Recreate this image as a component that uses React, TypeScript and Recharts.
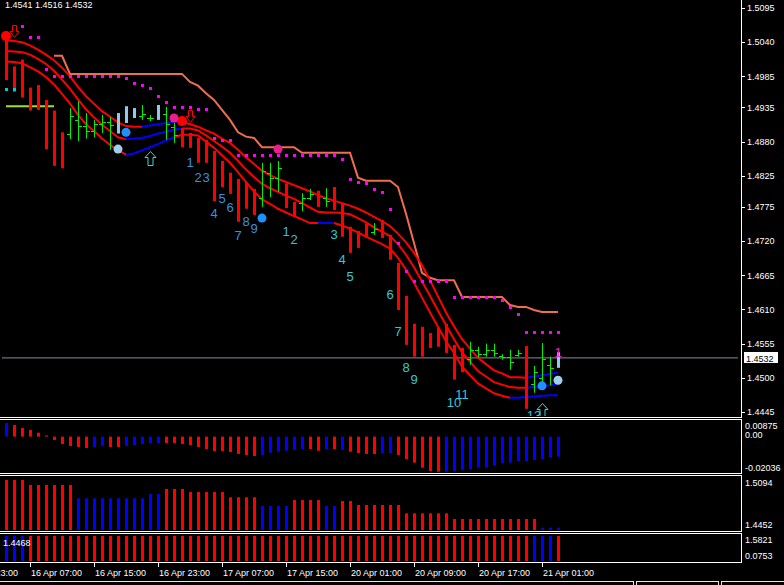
import React from "react";
import { ComposedChart, Bar, Line, Scatter, XAxis, YAxis, ReferenceLine } from "recharts";

const n = null;
const FONT = "'Liberation Sans', Arial, sans-serif";
const SLOTS = 92;

// ---------- categories (hourly bars) ----------
const CATS = [
  "16 Apr 04:00","16 Apr 05:00","16 Apr 06:00","16 Apr 07:00","16 Apr 08:00","16 Apr 09:00","16 Apr 10:00","16 Apr 11:00","16 Apr 12:00","16 Apr 13:00",
  "16 Apr 14:00","16 Apr 15:00","16 Apr 16:00","16 Apr 17:00","16 Apr 18:00","16 Apr 19:00","16 Apr 20:00","16 Apr 21:00","16 Apr 22:00","16 Apr 23:00",
  "17 Apr 00:00","17 Apr 01:00","17 Apr 02:00","17 Apr 03:00","17 Apr 04:00","17 Apr 05:00","17 Apr 06:00","17 Apr 07:00","17 Apr 08:00","17 Apr 09:00",
  "17 Apr 10:00","17 Apr 11:00","17 Apr 12:00","17 Apr 13:00","17 Apr 14:00","17 Apr 15:00","17 Apr 16:00","17 Apr 17:00","17 Apr 18:00","17 Apr 19:00",
  "17 Apr 20:00","17 Apr 21:00","17 Apr 22:00","20 Apr 01:00","20 Apr 02:00","20 Apr 03:00","20 Apr 04:00","20 Apr 05:00","20 Apr 06:00","20 Apr 07:00",
  "20 Apr 08:00","20 Apr 09:00","20 Apr 10:00","20 Apr 11:00","20 Apr 12:00","20 Apr 13:00","20 Apr 14:00","20 Apr 15:00","20 Apr 16:00","20 Apr 17:00",
  "20 Apr 18:00","20 Apr 19:00","20 Apr 20:00","20 Apr 21:00","20 Apr 22:00","20 Apr 23:00","21 Apr 00:00","21 Apr 01:00","21 Apr 02:00","21 Apr 03:00",
];
const TIME_TICKS = ["16 Apr 07:00","16 Apr 15:00","16 Apr 23:00","17 Apr 07:00","17 Apr 15:00","20 Apr 01:00","20 Apr 09:00","20 Apr 17:00","21 Apr 01:00"];
const PREV_TIME_LABEL = "15 Apr 23:00";
const PRICE_TICKS = [1.5095,1.504,1.4985,1.4935,1.488,1.4825,1.4775,1.472,1.4665,1.461,1.4555,1.45,1.4445];
const MAIN_DOMAIN = [1.44385, 1.51079];
const CUR_PRICE = 1.4532;
const HEADER = "1.4541 1.4516 1.4532";

// ---------- price bars ----------
const HIGH = [
  1.5047,1.5001,1.5012,1.4967,1.4971,1.4947,1.4930,1.4895,1.4934,1.4945,
  1.4926,1.4915,1.4923,1.4920,1.4926,1.4937,1.4934,1.4939,1.4923,1.4939,
  1.4936,1.4910,1.4902,1.4894,1.4886,1.4883,1.4865,1.4849,1.4830,1.4820,
  1.4815,1.4804,1.4846,1.4846,1.4849,1.4813,1.4783,1.4797,1.4804,1.4801,
  1.4805,1.4807,1.4781,1.4743,1.4736,1.4748,1.4749,1.4754,1.4730,1.4685,
  1.4632,1.4587,1.4582,1.4572,1.4580,1.4587,1.4553,1.4548,1.4558,1.4550,
  1.4555,1.4555,1.4538,1.4545,1.4545,1.4551,1.4519,1.4556,1.4534,1.4541,
];
const LOW = [
  1.4979,1.4960,1.4951,1.4930,1.4931,1.4868,1.4841,1.4837,1.4884,1.4881,
  1.4885,1.4887,1.4894,1.4867,1.4893,1.4910,1.4918,1.4915,1.4913,1.4915,
  1.4883,1.4878,1.4871,1.4870,1.4846,1.4846,1.4784,1.4807,1.4796,1.4751,
  1.4772,1.4762,1.4775,1.4791,1.4799,1.4773,1.4759,1.4768,1.4786,1.4775,
  1.4775,1.4770,1.4727,1.4701,1.4709,1.4727,1.4730,1.4725,1.4690,1.4609,
  1.4553,1.4534,1.4534,1.4548,1.4550,1.4540,1.4497,1.4509,1.4521,1.4532,
  1.4534,1.4534,1.4529,1.4513,1.4534,1.4450,1.4476,1.4485,1.4488,1.4516,
];
const OPEN = [
  n,n,n,n,n,n,n,n,1.4893,1.4915,
  1.4905,1.4897,1.4908,1.4912,n,n,n,1.4922,1.4918,n,
  1.4924,1.4904,n,n,n,n,n,n,n,n,
  n,n,1.4790,1.4830,1.4822,n,n,1.4782,1.4790,n,
  1.4790,n,n,n,n,n,1.4735,n,n,n,
  n,n,n,n,n,n,n,n,1.4530,1.4545,
  1.4538,1.4545,1.4535,1.4533,1.4537,n,1.4490,1.4500,1.4520,n,
];
const CLOSE = [
  n,n,n,n,n,n,n,n,1.4921,1.4905,
  1.4897,1.4908,1.4912,1.4906,n,n,n,1.4925,1.4918,n,
  1.4908,1.4890,n,n,n,n,n,n,n,n,
  n,n,1.4832,1.4822,1.4838,n,n,1.4790,1.4795,n,
  1.4785,n,n,n,n,n,1.4740,n,n,n,
  n,n,n,n,n,n,n,n,1.4545,1.4538,
  1.4545,1.4540,1.4533,1.4525,1.4540,n,1.4510,1.4530,1.4515,n,
];
// r = red thick bar, g = green OHLC bar, b = light blue thick bar
const BAR_KIND = "rrrrrrrrggggggbbbggbggrrrrrrrrrrgggrrggrgrrrrrgrrrrrrrrrrrgggggggrgggb";

// ---------- envelope bands ----------
const UPPER = [
  1.5043,1.5042,1.5040,1.5035,1.5028,1.5020,1.5011,1.4999,1.4985,1.4968,
  1.4953,1.4941,1.4929,1.4920,1.4911,1.4905,1.4904,1.4904,1.4906,1.4908,
  1.4910,1.4912,1.4912,1.4908,1.4904,1.4898,1.4893,1.4885,1.4878,1.4867,
  1.4855,1.4844,1.4833,1.4826,1.4820,1.4815,1.4810,1.4805,1.4800,1.4794,
  1.4789,1.4785,1.4781,1.4777,1.4772,1.4766,1.4759,1.4752,1.4744,1.4732,
  1.4718,1.4701,1.4681,1.4657,1.4631,1.4605,1.4583,1.4562,1.4547,1.4532,
  1.4522,1.4512,1.4507,1.4501,1.4501,1.4500,1.4502,1.4504,1.4506,1.4508,
];
const MIDDLE = [
  1.5026,1.5025,1.5024,1.5020,1.5013,1.5005,1.4994,1.4980,1.4965,1.4948,
  1.4932,1.4919,1.4907,1.4897,1.4887,1.4884,1.4885,1.4886,1.4889,1.4893,
  1.4896,1.4899,1.4901,1.4901,1.4898,1.4890,1.4881,1.4872,1.4862,1.4849,
  1.4835,1.4823,1.4812,1.4805,1.4799,1.4793,1.4788,1.4781,1.4774,1.4767,
  1.4766,1.4766,1.4765,1.4763,1.4757,1.4750,1.4742,1.4735,1.4728,1.4715,
  1.4698,1.4678,1.4655,1.4632,1.4608,1.4585,1.4562,1.4541,1.4526,1.4511,
  1.4502,1.4493,1.4489,1.4485,1.4484,1.4484,1.4485,1.4486,1.4488,1.4490,
];
const LOWER = [
  1.5009,1.5008,1.5006,1.5000,1.4993,1.4984,1.4972,1.4957,1.4941,1.4923,
  1.4908,1.4897,1.4885,1.4875,1.4866,1.4859,1.4861,1.4866,1.4871,1.4876,
  1.4882,1.4887,1.4891,1.4891,1.4890,1.4880,1.4870,1.4858,1.4846,1.4831,
  1.4815,1.4800,1.4787,1.4780,1.4772,1.4766,1.4760,1.4755,1.4749,1.4749,
  1.4749,1.4749,1.4745,1.4740,1.4734,1.4727,1.4721,1.4715,1.4708,1.4693,
  1.4674,1.4653,1.4629,1.4605,1.4582,1.4559,1.4540,1.4518,1.4504,1.4491,
  1.4483,1.4475,1.4471,1.4468,1.4468,1.4469,1.4470,1.4471,1.4472,1.4472,
];
const UPPER_BLUE = [[17, 22], [65, 69]];
const MIDDLE_BLUE = [[15, 22], [65, 69]];
const LOWER_BLUE = [[15, 21], [39, 41], [63, 69]];

// ---------- trailing stop line & dots ----------
const STOP = [
  n,n,n,n,n,n,1.5018,1.5018,1.4989,1.4989,
  1.4989,1.4989,1.4989,1.4989,1.4989,1.4989,1.4989,1.4989,1.4989,1.4989,
  1.4989,1.4989,1.4989,1.4976,1.4970,1.4958,1.4947,1.4931,1.4915,1.4895,
  1.4888,1.4886,1.4871,1.4871,1.4871,1.4871,1.4871,1.4862,1.4862,1.4862,
  1.4862,1.4862,1.4862,1.4862,1.4822,1.4817,1.4817,1.4817,1.4817,1.4807,
  1.4764,1.4717,1.4669,1.4661,1.4657,1.4657,1.4657,1.4630,1.4630,1.4630,
  1.4630,1.4630,1.4630,1.4617,1.4614,1.4614,1.4609,1.4606,1.4606,1.4606,
];
const MAGENTA = [
  n,n,1.5066,1.5048,1.5048,1.4997,1.4985,1.4985,1.4985,1.4985,
  1.4985,1.4985,1.4985,1.4985,1.4985,1.4983,1.4974,1.4971,1.4966,1.4953,
  1.4944,1.4936,1.4936,1.4936,1.4932,1.4932,1.4886,1.4883,1.4883,1.4859,
  1.4859,1.4859,1.4859,1.4859,1.4859,1.4859,1.4859,1.4859,1.4859,1.4859,
  1.4859,1.4859,1.4852,1.4820,1.4815,1.4813,1.4804,1.4799,1.4772,1.4717,
  1.4672,1.4656,1.4656,1.4656,1.4656,1.4656,1.4630,1.4630,1.4630,1.4630,
  1.4630,1.4630,1.4625,1.4614,1.4603,1.4574,1.4574,1.4574,1.4574,1.4574,
];
const YG_LEVEL = 1.4937;
const YG_BARS = [0, 6];

// ---------- signal markers ----------
const RED_DOTS = [{ i: 0, p: 1.5050 }, { i: 22, p: 1.4913 }];
const PINK_DOTS = [{ i: 21, p: 1.4918 }, { i: 34, p: 1.4868 }];
const BLUE_DOTS = [{ i: 15, p: 1.4895 }, { i: 32, p: 1.4757 }, { i: 67, p: 1.4487 }];
const SKY_DOTS = [{ i: 14, p: 1.4868 }, { i: 69, p: 1.4496 }];
const DOWN_ARROWS = [{ i: 1, p: 1.5058 }, { i: 23, p: 1.4921 }];
const UP_ARROWS = [{ i: 18, p: 1.4854 }, { i: 67, p: 1.4448 }];
const CYAN_SQUARES = [{ i: 0, p: 1.4965 }, { i: 1, p: 1.4965 }];
const WAVE_LABELS = [
  { i: 23, p: 1.4847, t: "1", c: "#3b8fe0" }, { i: 24, p: 1.4823, t: "2", c: "#3b8fe0" },
  { i: 25, p: 1.4823, t: "3", c: "#3b8fe0" }, { i: 26, p: 1.4764, t: "4", c: "#3b8fe0" },
  { i: 27, p: 1.4788, t: "5", c: "#3b8fe0" }, { i: 28, p: 1.4775, t: "6", c: "#3b8fe0" },
  { i: 29, p: 1.4730, t: "7", c: "#3b8fe0" }, { i: 30, p: 1.4751, t: "8", c: "#3b8fe0" },
  { i: 31, p: 1.4741, t: "9", c: "#3b8fe0" },
  { i: 35, p: 1.4735, t: "1", c: "#45b4ea" }, { i: 36, p: 1.4722, t: "2", c: "#45b4ea" },
  { i: 41, p: 1.4731, t: "3", c: "#35c8d8" }, { i: 42, p: 1.4690, t: "4", c: "#35c8d8" },
  { i: 43, p: 1.4664, t: "5", c: "#35c8d8" }, { i: 48, p: 1.4635, t: "6", c: "#35c8d8" },
  { i: 49, p: 1.4574, t: "7", c: "#35c8d8" }, { i: 50, p: 1.4517, t: "8", c: "#35c8d8" },
  { i: 51, p: 1.4497, t: "9", c: "#35c8d8" }, { i: 56, p: 1.4460, t: "10", c: "#35c8d8" },
  { i: 57, p: 1.4474, t: "11", c: "#35c8d8" }, { i: 66, p: 1.4440, t: "13", c: "#35c8d8" },
  { i: 69, p: 1.4541, t: "1", c: "#ee22ee" },
];

// ---------- sub panel 1 (oscillator) ----------
const OSC = [
  0.00763,0.00651,0.00483,0.00371,0.00220,0.00063,-0.00189,-0.00413,-0.00525,-0.00581,
  -0.00636,-0.00581,-0.00525,-0.00581,-0.00581,-0.00525,-0.00469,-0.00413,-0.00357,-0.00357,
  -0.00357,-0.00357,-0.00413,-0.00469,-0.00581,-0.00692,-0.00804,-0.00804,-0.00860,-0.00972,
  -0.01028,-0.01084,-0.01028,-0.00900,-0.00844,-0.00788,-0.00748,-0.00692,-0.00692,-0.00788,
  -0.00692,-0.00692,-0.00748,-0.00844,-0.00916,-0.00972,-0.00972,-0.00916,-0.00916,-0.01028,
  -0.01252,-0.01459,-0.01739,-0.01924,-0.01963,-0.01963,-0.01924,-0.01868,-0.01812,-0.01739,
  -0.01739,-0.01627,-0.01476,-0.01459,-0.01364,-0.01364,-0.01308,-0.01252,-0.01180,-0.01124,
];
const OSC_COLOR = "brrrrrrrrrrbbrrbbbbbrrrrrrrrrrrrbbbbbbrrbrbrrrrbbrrrrrrbbbbbbbbbbbbbbb";
const OSC_DOMAIN = [-0.02036, 0.00875];

// ---------- sub panel 2 (level histogram) ----------
const LEVEL = [
  1.5058,1.5058,1.5058,1.4997,1.4997,1.4997,1.4997,1.4997,1.4997,1.4836,
  1.4836,1.4836,1.4836,1.4836,1.4836,1.4836,1.4836,1.4836,1.4888,1.4888,
  1.4949,1.4949,1.4949,1.4912,1.4912,1.4912,1.4912,1.4912,1.4848,1.4848,
  1.4848,1.4848,1.4743,1.4743,1.4743,1.4743,1.4815,1.4815,1.4815,1.4815,
  1.4743,1.4743,1.4803,1.4803,1.4755,1.4755,1.4755,1.4755,1.4755,1.4755,
  1.4654,1.4654,1.4654,1.4654,1.4654,1.4654,1.4585,1.4585,1.4585,1.4585,
  1.4585,1.4585,1.4585,1.4585,1.4585,1.4585,1.4585,1.4480,1.4480,1.4480,
];
const LEVEL_COLOR = "rrrrrrrrrbbbbbbbbbbbrrrrrrrrrrrrbbbbrrrrbbrrrrrrrrrrrrrrrrrrrrrrrrrbbb";
const LEVEL_DOMAIN = [1.4452, 1.5094];

// ---------- sub panel 3 (trend strip) ----------
const TREND = [
  1.5821,1.5821,1.5821,1.5821,1.5821,1.5821,1.5821,1.5821,1.5821,1.5821,
  1.5821,1.5821,1.5821,1.5821,1.5821,1.5821,1.5821,1.5821,1.5821,1.5821,
  1.5821,1.5821,1.5821,1.5821,1.5821,1.5821,1.5821,1.5821,1.5821,1.5821,
  1.5821,1.5821,1.5821,1.5821,1.5821,1.5821,1.5821,1.5821,1.5821,1.5821,
  1.5821,1.5821,1.5821,1.5821,1.5821,1.5821,1.5821,1.5821,1.5821,1.5821,
  1.5821,1.5821,1.5821,1.5821,1.5821,1.5821,1.5821,1.5821,1.5821,1.5821,
  1.5821,1.5821,1.5821,1.5821,1.5821,1.5821,1.5821,1.5821,1.5821,1.5821,
];
const TREND_COLOR = "bbbrrrrrrrrrrrrrrrrrrrrrrrrrrrrrrrrrrrrrrrrrrrrrrrrrrrrrrrrrrrrrrrbbb";
const TREND_DOMAIN = [0.0753, 1.5821];
const TREND_NOTE = "1.4468";

// ---------- colours ----------
const RED = "#ff0000";
const BLUE = "#0000ff";
const GREEN = "#00ee00";
const SKY = "#92c8e8";
const SALMON = "#f06e50";
const MAG = "#ff00ff";

// ---------- build rows ----------
const inRanges = (i: number, rs: number[][], strict: boolean) =>
  rs.some(([s, e]) => (strict ? i > s && i < e : i >= s && i <= e));

const rows: any[] = [];
for (let i = 0; i < SLOTS; i++) rows.push({ cat: i < CATS.length ? CATS[i] : `pad${i}` });
CATS.forEach((_, i) => {
  const r = rows[i];
  r.rng = [LOW[i], HIGH[i]];
  r.hi = HIGH[i];
  r.lo = LOW[i];
  r.op = OPEN[i];
  r.cl = CLOSE[i];
  r.kind = BAR_KIND[i];
  r.stop = STOP[i];
  r.mag = MAGENTA[i];
  r.upR = inRanges(i, UPPER_BLUE, true) ? null : UPPER[i];
  r.upB = inRanges(i, UPPER_BLUE, false) ? UPPER[i] : null;
  r.midR = inRanges(i, MIDDLE_BLUE, true) ? null : MIDDLE[i];
  r.midB = inRanges(i, MIDDLE_BLUE, false) ? MIDDLE[i] : null;
  r.lowR = inRanges(i, LOWER_BLUE, true) ? null : LOWER[i];
  r.lowB = inRanges(i, LOWER_BLUE, false) ? LOWER[i] : null;
  r.yg = i >= YG_BARS[0] && i <= YG_BARS[1] ? YG_LEVEL : null;
  r.osc = OSC[i];
  r.oscC = OSC_COLOR[i] === "b" ? BLUE : RED;
  r.lev = LEVEL[i];
  r.levC = LEVEL_COLOR[i] === "b" ? BLUE : RED;
  r.trend = TREND[i];
  r.trendC = TREND_COLOR[i] === "b" ? BLUE : RED;
});
const put = (list: { i: number; p: number }[], key: string) =>
  list.forEach((m) => { rows[m.i][key] = m.p; });
put(RED_DOTS, "redDot");
put(PINK_DOTS, "pinkDot");
put(BLUE_DOTS, "blueDot");
put(SKY_DOTS, "skyDot");
put(DOWN_ARROWS, "downArr");
put(UP_ARROWS, "upArr");
put(CYAN_SQUARES, "cySq");
WAVE_LABELS.forEach((m) => {
  rows[m.i].lab = m.p;
  rows[m.i].labT = m.t;
  rows[m.i].labC = m.c;
});

// ---------- shapes ----------
const PriceBar = (props: any) => {
  const { x, y, width, height, payload } = props;
  if (!payload || payload.hi == null || x == null) return <g />;
  const cx = Math.round(x + width / 2);
  const top = Math.min(y, y + height);
  const h = Math.max(Math.abs(height), 1);
  const { hi, lo, op, cl, kind } = payload;
  const py = (v: number) => Math.round(top + ((hi - v) / (hi - lo || 1)) * h);
  if (kind === "g") {
    return (
      <g>
        <rect x={cx} y={top} width={1} height={h} fill={GREEN} />
        {op != null && <rect x={cx - 3} y={py(op)} width={3} height={1} fill={GREEN} />}
        {cl != null && <rect x={cx + 1} y={py(cl)} width={3} height={1} fill={GREEN} />}
      </g>
    );
  }
  return <rect x={cx - 1} y={top} width={3} height={h} fill={kind === "b" ? SKY : RED} />;
};

const PanelBar = (props: any) => {
  const { x, y, width, height, payload, ck } = props;
  if (!payload || x == null || height == null) return <g />;
  const cx = Math.round(x + width / 2);
  const top = Math.min(y, y + height);
  return <rect x={cx - 1} y={top} width={3} height={Math.abs(height)} fill={payload[ck]} />;
};

const has = (props: any, key: string) =>
  props && props.payload && props.payload[key] != null && Number.isFinite(props.cy);

const Dot = (key: string, color: string, r: number) => (props: any) =>
  has(props, key) ? <circle cx={props.cx} cy={props.cy} r={r} fill={color} /> : <g />;

const Square = (key: string, color: string) => (props: any) =>
  has(props, key) ? (
    <rect x={Math.round(props.cx) - 1} y={Math.round(props.cy) - 1} width={3} height={3} fill={color} />
  ) : <g />;

const DownArrow = (props: any) => {
  if (!has(props, "downArr")) return <g />;
  const cx = Math.round(props.cx) + 0.5;
  const cy = Math.round(props.cy) + 0.5;
  const d = `M${cx - 2} ${cy - 6} L${cx + 2} ${cy - 6} L${cx + 2} ${cy} L${cx + 4.5} ${cy} L${cx} ${cy + 6} L${cx - 4.5} ${cy} L${cx - 2} ${cy} Z`;
  return <path d={d} fill="none" stroke={RED} strokeWidth={1} />;
};

const UpArrow = (props: any) => {
  if (!has(props, "upArr")) return <g />;
  const cx = Math.round(props.cx) + 0.5;
  const cy = Math.round(props.cy) + 0.5;
  const d = `M${cx} ${cy - 7} L${cx + 5.5} ${cy - 1} L${cx + 2.5} ${cy - 1} L${cx + 2.5} ${cy + 7} L${cx - 2.5} ${cy + 7} L${cx - 2.5} ${cy - 1} L${cx - 5.5} ${cy - 1} Z`;
  return <path d={d} fill="none" stroke="#44d4d4" strokeWidth={1} />;
};

const WaveLabel = (props: any) =>
  has(props, "lab") ? (
    <text x={props.cx} y={props.cy} dy="0.36em" textAnchor="middle" fill={props.payload.labC} fontSize={13} fontFamily={FONT}>
      {props.payload.labT}
    </text>
  ) : <g />;

const PriceTick = (props: any) => {
  const { x, y, payload } = props;
  return (
    <g>
      <rect x={x + 4} y={Math.round(y)} width={3} height={1} fill="#fff" />
      <text x={x + 9} y={y} dy={3.3} fill="#fff" fontSize={9} fontFamily={FONT}>
        {Number(payload.value).toFixed(4)}
      </text>
    </g>
  );
};

const PanelTick = (props: any) => {
  const { x, y, payload, top, bottom, dTop, dBot, dMid, digits } = props;
  const v = payload.value;
  const dy = v === top ? dTop : v === bottom ? dBot : dMid;
  const label = v === 0 ? "0.00" : Number(v).toFixed(digits);
  return (
    <text x={x + 7} y={y + dy} fill="#fff" fontSize={9} fontFamily={FONT}>
      {label}
    </text>
  );
};

const TimeTick = (props: any) => {
  const { x, y, payload, index } = props;
  return (
    <g>
      <rect x={Math.round(x)} y={y + 2} width={1} height={4} fill="#fff" />
      <text x={x + 1} y={y + 14.5} fill="#fff" fontSize={9} fontFamily={FONT}>{payload.value}</text>
      {index === 0 && (
        <text x={x + 1 - 64} y={y + 14.5} fill="#fff" fontSize={9} fontFamily={FONT}>{PREV_TIME_LABEL}</text>
      )}
    </g>
  );
};

const CurLabel = (props: any) => {
  const vb = props.viewBox || {};
  const x = (vb.x ?? 0) + (vb.width ?? 0) + 6;
  const y = Math.round(vb.y ?? 0);
  return (
    <g>
      <rect x={x} y={y - 6} width={34} height={11} fill="#fff" />
      <text x={x + 2} y={y + 3.5} fill="#000" fontSize={9} fontFamily={FONT}>{CUR_PRICE.toFixed(4)}</text>
    </g>
  );
};

const MARGIN_X = { left: 2, right: 3 };
const AXIS_W = 43;

const frame = (top: number, height: number): React.CSSProperties => ({
  position: "absolute", left: -1, top, width: 743, height, boxSizing: "border-box",
  border: "1px solid #fff", pointerEvents: "none",
});

export default function App() {
  return (
    <div style={{ position: "absolute", left: 0, top: 0, width: 784, height: 585, background: "#000", overflow: "hidden", fontFamily: FONT }}>
      {/* main price panel */}
      <div style={{ position: "absolute", left: 0, top: 0 }}>
        <ComposedChart width={784} height={418} data={rows} margin={{ top: 0, bottom: 2, ...MARGIN_X }}>
          <XAxis dataKey="cat" hide allowDuplicatedCategory={false} />
          <YAxis orientation="right" width={AXIS_W} type="number" domain={MAIN_DOMAIN} allowDataOverflow
            ticks={PRICE_TICKS} interval={0} tickLine={false} axisLine={false} tickSize={0} tickMargin={0}
            tick={<PriceTick />} />
          <ReferenceLine y={CUR_PRICE} stroke="#8a8aa0" strokeWidth={1} label={<CurLabel />} />
          <Line dataKey="stop" stroke={SALMON} strokeWidth={2} dot={false} isAnimationActive={false} />
          <Line dataKey="yg" stroke="#a0e020" strokeWidth={2} dot={false} isAnimationActive={false} />
          <Line dataKey="upR" stroke={RED} strokeWidth={2} dot={false} isAnimationActive={false} />
          <Line dataKey="upB" stroke={BLUE} strokeWidth={2} dot={false} isAnimationActive={false} />
          <Line dataKey="midR" stroke={RED} strokeWidth={2} dot={false} isAnimationActive={false} />
          <Line dataKey="midB" stroke={BLUE} strokeWidth={2} dot={false} isAnimationActive={false} />
          <Line dataKey="lowR" stroke={RED} strokeWidth={2} dot={false} isAnimationActive={false} />
          <Line dataKey="lowB" stroke={BLUE} strokeWidth={2} dot={false} isAnimationActive={false} />
          <Bar dataKey="rng" barSize={4} shape={PriceBar} isAnimationActive={false} {...({ zIndex: 450 } as any)} />
          <Scatter dataKey="mag" shape={Square("mag", MAG)} isAnimationActive={false} />
          <Scatter dataKey="cySq" shape={Square("cySq", "#00cccc")} isAnimationActive={false} />
          <Scatter dataKey="redDot" shape={Dot("redDot", RED, 5)} isAnimationActive={false} />
          <Scatter dataKey="pinkDot" shape={Dot("pinkDot", "#e8208c", 4.5)} isAnimationActive={false} />
          <Scatter dataKey="blueDot" shape={Dot("blueDot", "#1e90ff", 4.5)} isAnimationActive={false} />
          <Scatter dataKey="skyDot" shape={Dot("skyDot", "#9fd0ee", 4.5)} isAnimationActive={false} />
          <Scatter dataKey="downArr" shape={DownArrow} isAnimationActive={false} />
          <Scatter dataKey="upArr" shape={UpArrow} isAnimationActive={false} />
          <Scatter dataKey="lab" shape={WaveLabel} isAnimationActive={false} />
        </ComposedChart>
      </div>

      {/* oscillator panel */}
      <div style={{ position: "absolute", left: 0, top: 419, background: "#000" }}>
        <ComposedChart width={784} height={56} data={rows} margin={{ top: 2, bottom: 2, ...MARGIN_X }}>
          <XAxis dataKey="cat" hide allowDuplicatedCategory={false} />
          <YAxis orientation="right" width={AXIS_W} type="number" domain={OSC_DOMAIN} allowDataOverflow
            ticks={[OSC_DOMAIN[1], 0, OSC_DOMAIN[0]]} interval={0} tickLine={false} axisLine={false} tickSize={0} tickMargin={0}
            tick={<PanelTick top={OSC_DOMAIN[1]} bottom={OSC_DOMAIN[0]} dTop={8.3} dBot={-2} dMid={1.8} digits={5} />} />
          <Bar dataKey="osc" barSize={4} shape={<PanelBar ck="oscC" />} isAnimationActive={false} />
        </ComposedChart>
      </div>

      {/* level panel */}
      <div style={{ position: "absolute", left: 0, top: 475, background: "#000" }}>
        <ComposedChart width={784} height={57} data={rows} margin={{ top: 2, bottom: 2, ...MARGIN_X }}>
          <XAxis dataKey="cat" hide allowDuplicatedCategory={false} />
          <YAxis orientation="right" width={AXIS_W} type="number" domain={LEVEL_DOMAIN} allowDataOverflow
            ticks={[LEVEL_DOMAIN[1], LEVEL_DOMAIN[0]]} interval={0} tickLine={false} axisLine={false} tickSize={0} tickMargin={0}
            tick={<PanelTick top={LEVEL_DOMAIN[1]} bottom={LEVEL_DOMAIN[0]} dTop={9} dBot={-2.3} dMid={0} digits={4} />} />
          <Bar dataKey="lev" barSize={4} shape={<PanelBar ck="levC" />} isAnimationActive={false} />
        </ComposedChart>
      </div>

      {/* trend strip + time axis */}
      <div style={{ position: "absolute", left: 0, top: 533, background: "#000" }}>
        <ComposedChart width={784} height={52} data={rows} margin={{ top: 3, bottom: 0, ...MARGIN_X }}>
          <XAxis dataKey="cat" allowDuplicatedCategory={false} ticks={TIME_TICKS} interval={0} height={24}
            tickLine={false} axisLine={false} tickSize={0} tickMargin={0} tick={<TimeTick />} />
          <YAxis orientation="right" width={AXIS_W} type="number" domain={TREND_DOMAIN} allowDataOverflow
            ticks={[TREND_DOMAIN[1], TREND_DOMAIN[0]]} interval={0} tickLine={false} axisLine={false} tickSize={0} tickMargin={0}
            tick={<PanelTick top={TREND_DOMAIN[1]} bottom={TREND_DOMAIN[0]} dTop={6.7} dBot={-2.3} dMid={0} digits={4} />} />
          <Bar dataKey="trend" barSize={4} shape={<PanelBar ck="trendC" />} isAnimationActive={false} />
        </ComposedChart>
      </div>

      {/* window frames */}
      <div style={frame(-1, 419)} />
      <div style={frame(419, 55)} />
      <div style={frame(475, 57)} />
      <div style={frame(533, 30)} />

      {/* header and indicator note */}
      <div style={{ position: "absolute", left: 5, top: -1, color: "#fff", fontSize: 9, lineHeight: "12px", whiteSpace: "pre" }}>{HEADER}</div>
      <div style={{ position: "absolute", left: 3, top: 538, color: "#fff", fontSize: 9, lineHeight: "10px" }}>{TREND_NOTE}</div>

      {/* status bar */}
      <div style={{ position: "absolute", left: -1, top: 581, width: 635, height: 10, border: "1px solid #e8e8e8", boxSizing: "border-box" }} />
      <div style={{ position: "absolute", left: 636, top: 581, width: 83, height: 10, border: "1px solid #e8e8e8", boxSizing: "border-box" }} />
      <div style={{ position: "absolute", left: 721, top: 581, width: 70, height: 10, border: "1px solid #e8e8e8", boxSizing: "border-box" }} />
    </div>
  );
}
